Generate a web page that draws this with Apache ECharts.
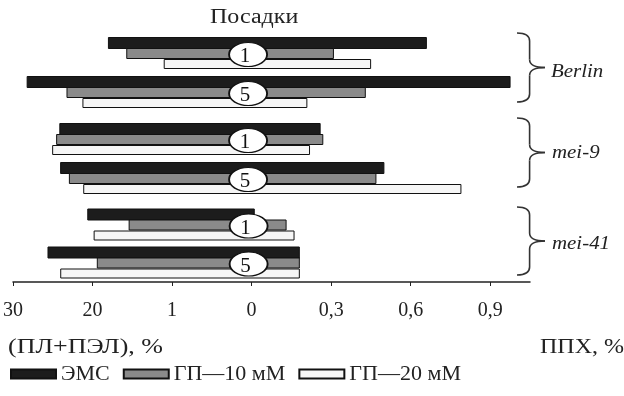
<!DOCTYPE html>
<html>
<head>
<meta charset="utf-8">
<script src="https://cdn.jsdelivr.net/npm/echarts@6/dist/echarts.min.js"></script>
<style>
  html, body { margin: 0; padding: 0; background: #fff; }
  #chart { width: 624px; height: 396px; }
</style>
</head>
<body>
<div id="chart"></div>
<script>
// planting numbers (rows inside each line) and lines
const plantings = ["1", "5"];
const lines = ["Berlin", "mei-9", "mei-41"];
const seriesNames = ["ЭМС", "ГП—10 мМ", "ГП—20 мМ"];

// left part: (ПЛ+ПЭЛ), %   right part: ППХ, %
// one row per line, values for plantings 1 and 5
const emsLeft = [[17.9, 28.1], [24.0, 23.9], [20.6, 25.6]];
const emsRight = [[0.66, 0.975], [0.26, 0.5], [0.01, 0.18]];
const gp10Left = [[15.6, 23.1], [24.4, 22.8], [15.4, 19.4]];
const gp10Right = [[0.31, 0.43], [0.27, 0.47], [0.13, 0.18]];
const gp20Left = [[10.9, 21.1], [24.9, 21.0], [19.8, 24.0]];
const gp20Right = [[0.45, 0.21], [0.22, 0.79], [0.16, 0.18]];

// axis ticks: 10 % on the left is drawn as wide as 0,3 on the right
const tickValues = [-0.9, -0.6, -0.3, 0, 0.3, 0.6, 0.9];
const tickLabels = ["30", "20", "1", "0", "0,3", "0,6", "0,9"];
const pctScale = 0.03;

const serif = "Liberation Serif";
const colors = ["#1c1c1c", "#8a8a8a", "#f6f6f6"];
const leftSets = [emsLeft, gp10Left, gp20Left];
const rightSets = [emsRight, gp10Right, gp20Right];
const offsets = [-10.5, 0, 10.5];
const heights = [11, 10, 9];

function rangeBar(k) {
  return function (params, api) {
    let row = api.value(0);
    let a = api.coord([api.value(1), row]);
    let b = api.coord([api.value(2), row]);
    let h = heights[k];
    return {
      type: "rect",
      shape: { x: a[0], y: a[1] + offsets[k] - h / 2, width: b[0] - a[0], height: h },
      style: { fill: colors[k], stroke: "#111", lineWidth: 1 },
    };
  };
}

const gridTops = [34, 120, 206];
const gridHeights = [78, 78, 76];

let grids = [], xAxes = [], yAxes = [], series = [];
lines.forEach((line, g) => {
  grids.push({ left: 12, right: 94, top: gridTops[g], height: gridHeights[g] });
  let last = g === lines.length - 1;
  xAxes.push({
    gridIndex: g,
    type: "value",
    min: -0.9,
    max: 1.05,
    show: last,
    splitLine: { show: false },
    axisLine: { show: true, lineStyle: { color: "#222", width: 1.5 } },
    axisTick: { show: true, customValues: tickValues, length: 4, lineStyle: { color: "#222" } },
    axisLabel: {
      customValues: tickValues,
      margin: 19,
      color: "#222",
      fontSize: 20,
      fontFamily: serif,
      formatter: (v) => tickLabels[tickValues.findIndex((t) => Math.abs(t - v) < 1e-9)],
    },
  });
  yAxes.push({
    gridIndex: g,
    type: "category",
    data: plantings,
    inverse: true,
    show: false,
  });
  seriesNames.forEach((name, k) => {
    series.push({
      name: name,
      type: "custom",
      xAxisIndex: g,
      yAxisIndex: g,
      itemStyle: { color: colors[k], borderColor: "#111", borderWidth: 1 },
      renderItem: rangeBar(k),
      data: plantings.map((p, i) => [i, -leftSets[k][g][i] * pctScale, rightSets[k][g][i]]),
    });
  });
  series.push({
    type: "scatter",
    xAxisIndex: g,
    yAxisIndex: g,
    z: 5,
    symbol: "circle",
    symbolSize: [38, 24],
    symbolOffset: [-3, 1],
    itemStyle: { color: "#fff", borderColor: "#111", borderWidth: 1.5, opacity: 1 },
    label: {
      show: true,
      position: "inside",
      offset: [-3, 2],
      color: "#111",
      fontSize: 21,
      fontFamily: serif,
      formatter: (p) => plantings[p.dataIndex],
    },
    data: plantings.map((p, i) => [0, i]),
  });
});

// curly brace "}" made of curves and straight pieces
function brace(top, h) {
  let x0 = 517, w = 28, m = x0 + w * 0.45, tip = x0 + w, mid = top + h / 2, bottom = top + h;
  let st = { stroke: "#333", lineWidth: 1.6, fill: null };
  let curve = (x1, y1, cx, cy, x2, y2) => ({
    type: "bezierCurve",
    shape: { x1: x1, y1: y1, cpx1: cx, cpy1: cy, x2: x2, y2: y2 },
    style: st,
  });
  let seg = (y1, y2) => ({ type: "line", shape: { x1: m, y1: y1, x2: m, y2: y2 }, style: st });
  return {
    type: "group",
    children: [
      curve(x0, top, m, top, m, top + 8),
      seg(top + 8, mid - 8),
      curve(m, mid - 8, m, mid, tip, mid),
      curve(tip, mid, m, mid, m, mid + 8),
      seg(mid + 8, bottom - 8),
      curve(m, bottom - 8, m, bottom, x0, bottom),
    ],
  };
}

// the printed type is a little wider than Liberation Serif, hence scaleX
function label(text, x, y, font, sx) {
  return {
    type: "text",
    x: x,
    y: y,
    scaleX: sx || 1.2,
    style: { text: text, fill: "#222", font: font || "20px " + serif, verticalAlign: "middle" },
  };
}

let chart = echarts.init(document.getElementById("chart"));
chart.setOption({
  animation: false,
  backgroundColor: "#fff",
  legend: {
    data: seriesNames,
    left: 5,
    top: 358,
    icon: "rect",
    itemWidth: 45,
    itemHeight: 9,
    itemGap: 13,
    textStyle: { fontSize: 22, fontFamily: serif, color: "#222" },
  },
  grid: grids,
  xAxis: xAxes,
  yAxis: yAxes,
  series: series,
  graphic: [
    label("Посадки", 210, 18),
    brace(33, 69),
    brace(118, 69),
    brace(207, 68),
    label(lines[0], 551, 72, "italic 19px " + serif, 1.1),
    label(lines[1], 552, 153, "italic 19px " + serif, 1.1),
    label(lines[2], 552, 244, "italic 19px " + serif, 1.1),
    label("(ПЛ+ПЭЛ), %", 8, 348, null, 1.3),
    label("ППХ, %", 540, 348),
  ],
});
</script>
</body>
</html>
